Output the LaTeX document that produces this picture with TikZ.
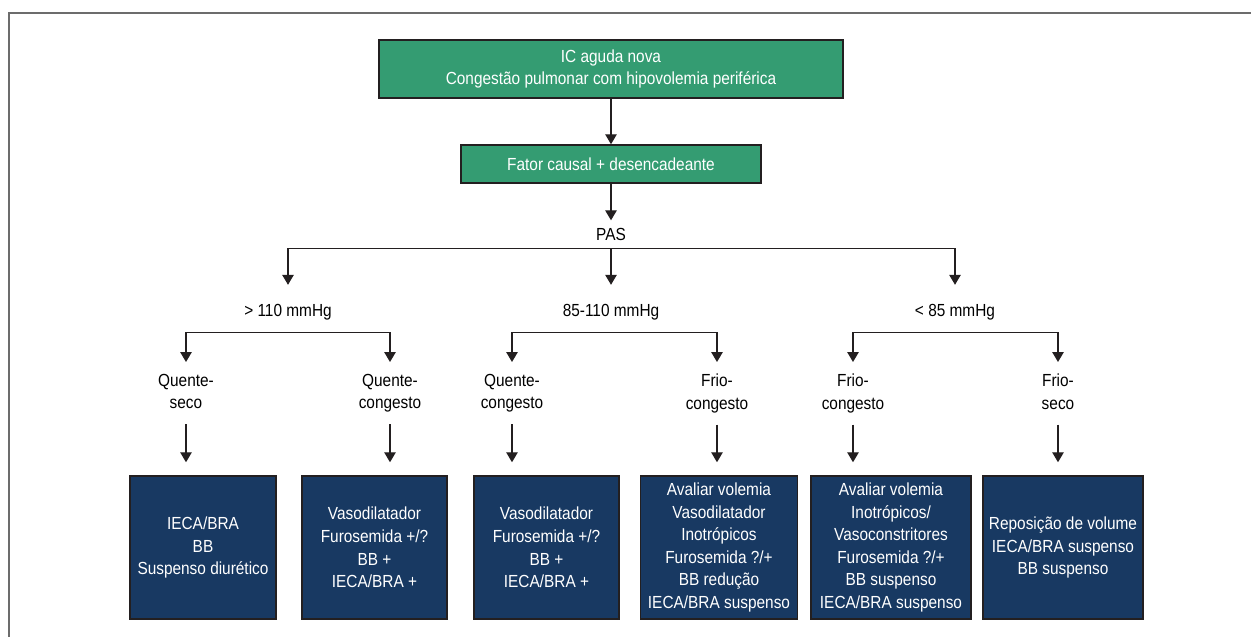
\documentclass[tikz,border=0pt]{standalone}
\usepackage{fontspec}
\setmainfont{Liberation Sans}[FakeStretch=0.88]
\usepackage{tikz}
\usetikzlibrary{arrows.meta}
\definecolor{verde}{RGB}{52,156,114}
\definecolor{azul}{RGB}{24,57,98}
\definecolor{traco}{RGB}{35,31,32}
\tikzset{>={Triangle[width=11.5pt,length=10pt]}}

\begin{document}
\begin{tikzpicture}[x=1pt,y=-1pt,font=\fontsize{17.5}{22.6}\selectfont,
	verdebox/.style={draw=traco,line width=1.5pt,fill=verde,text=white,align=center},
	azulbox/.style={draw=traco,line width=1.5pt,fill=azul,text=white,align=center,minimum height=143pt},
	faixa/.style={text height=14.5pt,text depth=0pt,inner ysep=16.5pt,anchor=base},
	perfil/.style={align=center,anchor=north,inner ysep=11.7pt,execute at begin node=\rule{0pt}{18.5pt},execute at end node=\rule[-3.6pt]{0pt}{3.6pt}},
	seta/.style={->,draw=traco,line width=1.3pt},
	dupla/.style={<->,draw=traco,line width=1.3pt}]
	\useasboundingbox (0,0) rectangle (1251,637);
	\draw[gray!85!black,line width=1.5pt] (9,637) -- (9,13) -- (1251,13);

	\node[verdebox,minimum width=464pt,minimum height=58pt] (nova) at (611,69) {IC aguda nova\\Congestão pulmonar com hipovolemia periférica};
	\node[verdebox,minimum width=300pt,minimum height=38pt] (causa) at (611,164) {Fator causal + desencadeante};
	\node[text height=12pt,text depth=0pt,inner ysep=8pt,anchor=base] (pas) at (611,240.5) {PAS};

	\node[faixa] (alta) at (288,316) {> 110 mmHg};
	\node[faixa] (media) at (611,316) {85-110 mmHg};
	\node[faixa] (baixa) at (955,316) {< 85 mmHg};

	\node[perfil] (qs) at (186,362) {Quente-\\seco};
	\node[perfil] (qc1) at (390,362) {Quente-\\congesto};
	\node[perfil] (qc2) at (512,362) {Quente-\\congesto};
	\node[perfil] (fc1) at (717,362) {Frio-\\congesto};
	\node[perfil] (fc2) at (853,362) {Frio-\\congesto};
	\node[perfil] (fs) at (1058,362) {Frio-\\seco};

	\node[azulbox,minimum width=146pt] (t1) at (203,547.5) {IECA/BRA\\BB\\Suspenso diurético};
	\node[azulbox,minimum width=145pt] (t2) at (374.5,547.5) {Vasodilatador\\Furosemida +/?\\BB +\\IECA/BRA +};
	\node[azulbox,minimum width=145pt] (t3) at (546.5,547.5) {Vasodilatador\\Furosemida +/?\\BB +\\IECA/BRA +};
	\node[azulbox,minimum width=157pt] (t4) at (719,547.5) {Avaliar volemia\\Vasodilatador\\Inotrópicos\\Furosemida ?/+\\BB redução\\IECA/BRA suspenso};
	\node[azulbox,minimum width=160pt] (t5) at (891,547.5) {Avaliar volemia\\Inotrópicos/\\Vasoconstritores\\Furosemida ?/+\\BB suspenso\\IECA/BRA suspenso};
	\node[azulbox,minimum width=160pt] (t6) at (1063,547.5) {Reposição de volume\\IECA/BRA suspenso\\BB suspenso};

	\draw[seta] (nova) -- (causa);
	\draw[seta] (causa) -- (pas);
	\draw[dupla] (alta.north) |- (pas.south) -| (baixa.north);
	\draw[seta] (pas.south) -- (media.north);
	\draw[dupla] (qs.north) |- (alta.south) -| (qc1.north);
	\draw[dupla] (qc2.north) |- (media.south) -| (fc1.north);
	\draw[dupla] (fc2.north) |- (baixa.south) -| (fs.north);
	\foreach \a/\b in {qs/t1,qc1/t2,qc2/t3,fc1/t4,fc2/t5,fs/t6}
		\draw[seta,shorten >=13pt] (\a.south) -- (\a.south |- \b.north);
\end{tikzpicture}
\end{document}
